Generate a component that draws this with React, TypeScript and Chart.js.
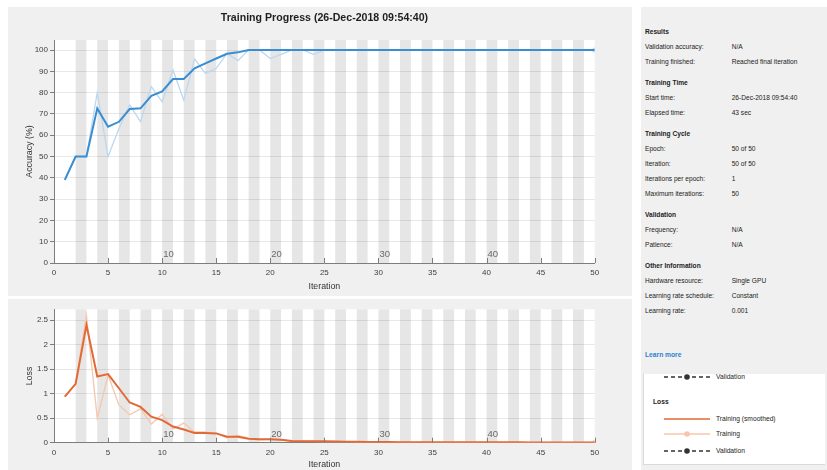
import { useEffect, useRef } from 'react';
import { Chart, registerables } from 'chart.js';

Chart.register(...registerables);

// ---- data -----------------------------------------------------------------
const ITERATION_MIN = 0;
const ITERATION_MAX = 50;
const EPOCH_COUNT = 50;
const EPOCH_MARKS = [10, 20, 30, 40];
const X_TICK_STEP = 5;

const ACC_SMOOTHED = [
  39, 50, 50, 72.6, 64, 66.3, 72.3, 72.6, 78.5, 80.6,
  86.4, 86.4, 91.4, 93.7, 96, 98.2, 98.9, 100, 100, 100,
  100, 100, 100, 100, 100, 100, 100, 100, 100, 100,
  100, 100, 100, 100, 100, 100, 100, 100, 100, 100,
  100, 100, 100, 100, 100, 100, 100, 100, 100, 100,
];
const ACC_RAW = [
  39, 50, 50, 80, 50, 63, 74.2, 66.3, 82.8, 75.7,
  90.6, 76.5, 95.8, 89, 91.4, 98.4, 95, 100, 100, 96,
  98, 100, 100, 98, 100, 100, 100, 100, 100, 100,
  100, 100, 100, 100, 100, 100, 100, 100, 100, 100,
  100, 100, 100, 100, 100, 100, 100, 100, 100, 100,
];
const LOSS_SMOOTHED = [
  0.94, 1.2, 2.4, 1.35, 1.4, 1.11, 0.82, 0.73, 0.53, 0.46,
  0.33, 0.27, 0.2, 0.2, 0.19, 0.12, 0.12, 0.08, 0.07, 0.07,
  0.06, 0.035, 0.03, 0.03, 0.03, 0.025, 0.02, 0.02, 0.015, 0.015,
  0.012, 0.011, 0.01, 0.01, 0.01, 0.009, 0.009, 0.008, 0.008, 0.008,
  0.007, 0.007, 0.007, 0.006, 0.006, 0.006, 0.006, 0.005, 0.005, 0.005,
];
const LOSS_RAW = [
  0.94, 1.2, 2.6, 0.5, 1.38, 0.77, 0.57, 0.69, 0.38, 0.58,
  0.28, 0.4, 0.22, 0.22, 0.19, 0.1, 0.15, 0.09, 0.06, 0.07,
  0.06, 0.03, 0.03, 0.03, 0.02, 0.03, 0.02, 0.015, 0.012, 0.012,
  0.01, 0.01, 0.009, 0.01, 0.008, 0.008, 0.007, 0.008, 0.007, 0.006,
  0.006, 0.006, 0.005, 0.006, 0.005, 0.005, 0.005, 0.004, 0.005, 0.004,
];

const ACC_MAX = 104.7;
const ACC_STEP = 10;
const LOSS_MAX = 2.72;
const LOSS_STEP = 0.5;

const TITLE = 'Training Progress (26-Dec-2018 09:54:40)';

const INFO_HEADINGS = ['Results', 'Training Time', 'Training Cycle', 'Validation', 'Other Information'];
const INFO_LABELS = [
  ['Validation accuracy:', 'Training finished:'],
  ['Start time:', 'Elapsed time:'],
  ['Epoch:', 'Iteration:', 'Iterations per epoch:', 'Maximum iterations:'],
  ['Frequency:', 'Patience:'],
  ['Hardware resource:', 'Learning rate schedule:', 'Learning rate:'],
];
const INFO_VALUES = [
  ['N/A', 'Reached final iteration'],
  ['26-Dec-2018 09:54:40', '43 sec'],
  ['50 of 50', '50 of 50', '1', '50'],
  ['N/A', 'N/A'],
  ['Single GPU', 'Constant', '0.001'],
];

// ---- styling ----------------------------------------------------------------
const FONT = '"Liberation Sans", Arial, sans-serif';
const PANEL_BG = '#f0f0f0';
const BAND = '#e6e6e6';
const GRID = 'rgba(0,0,0,0.09)';
const AXIS = '#7d7d7d';
const TICK_TEXT = '#404040';
const BLUE = '#3a8dd0';
const BLUE_LIGHT = '#bcd8ef';
const ORANGE = '#e26a36';
const ORANGE_LIGHT = '#f6c6ae';

Chart.defaults.font.family = FONT;

// plot background, alternating epoch bands, inward x ticks and epoch numbers
const progressDecor = {
  id: 'progressDecor',
  beforeDraw(chart: any) {
    const { ctx, chartArea: a, scales } = chart;
    const x = scales.x;
    ctx.save();
    ctx.fillStyle = '#ffffff';
    ctx.fillRect(a.left, a.top, a.right - a.left, a.bottom - a.top);
    ctx.fillStyle = BAND;
    for (let e = 2; e < EPOCH_COUNT; e += 2) {
      const x0 = x.getPixelForValue(e);
      const x1 = x.getPixelForValue(e + 1);
      ctx.fillRect(x0, a.top, x1 - x0, a.bottom - a.top);
    }
    ctx.restore();
  },
  afterDraw(chart: any) {
    const { ctx, chartArea: a, scales } = chart;
    const x = scales.x;
    ctx.save();
    ctx.strokeStyle = AXIS;
    ctx.lineWidth = 1;
    x.ticks.forEach((t: any) => {
      const px = Math.round(x.getPixelForValue(t.value)) + 0.5;
      ctx.beginPath();
      ctx.moveTo(px, a.bottom);
      ctx.lineTo(px, a.bottom - 5);
      ctx.stroke();
    });
    ctx.fillStyle = '#6a6a6a';
    ctx.font = `9.5px ${FONT}`;
    ctx.textBaseline = 'alphabetic';
    ctx.textAlign = 'left';
    EPOCH_MARKS.forEach((e) => {
      ctx.fillText(String(e), x.getPixelForValue(e) + 1, a.bottom - 6);
    });
    ctx.restore();
  },
};

type PanelSpec = {
  smoothed: number[];
  raw: number[];
  smoothColor: string;
  rawColor: string;
  yMax: number;
  yStep: number;
  yTitle: string;
  padTop: number;
  xAxisHeight: number;
  xTitlePad: number;
};

function buildChart(canvas: HTMLCanvasElement, p: PanelSpec) {
  const lastIndex = p.raw.length - 1;
  return new Chart(canvas, {
    type: 'line',
    data: {
      datasets: [
        {
          label: 'Training (smoothed)',
          data: p.smoothed.map((v, i) => ({ x: i + 1, y: v })),
          borderColor: p.smoothColor,
          borderWidth: 2,
          pointRadius: 0,
          tension: 0,
        },
        {
          label: 'Training',
          data: p.raw.map((v, i) => ({ x: i + 1, y: v })),
          borderColor: p.rawColor,
          backgroundColor: p.rawColor,
          borderWidth: 1.3,
          pointRadius: (c: any) => (c.dataIndex === lastIndex ? 2.6 : 0),
          pointBorderWidth: 0,
          tension: 0,
        },
      ],
    },
    options: {
      animation: false,
      responsive: false,
      events: [],
      layout: { padding: { left: 0, right: 37.3, top: p.padTop, bottom: 0 } },
      plugins: { legend: { display: false }, tooltip: { enabled: false }, title: { display: false } },
      scales: {
        x: {
          type: 'linear',
          min: ITERATION_MIN,
          max: ITERATION_MAX,
          ticks: { stepSize: X_TICK_STEP, color: TICK_TEXT, font: { size: 8 }, padding: 5, maxRotation: 0 },
          grid: { display: false, drawTicks: false },
          border: { display: true, color: AXIS, width: 1 },
          title: {
            display: true,
            text: 'Iteration',
            color: '#333333',
            font: { size: 8.8 },
            padding: { top: 0, bottom: p.xTitlePad },
          },
          afterFit: (s: any) => {
            s.height = p.xAxisHeight;
            s.paddingLeft = 0;
            s.paddingRight = 0;
          },
        },
        y: {
          min: 0,
          max: p.yMax,
          ticks: {
            stepSize: p.yStep,
            includeBounds: false,
            color: TICK_TEXT,
            font: { size: 8 },
            padding: 2,
            callback: (v: any) => String(Math.round(Number(v) * 10) / 10),
          },
          grid: { color: GRID, tickColor: AXIS, tickLength: 4, drawTicks: true },
          border: { display: true, color: AXIS, width: 1 },
          title: {
            display: true,
            text: p.yTitle,
            color: '#333333',
            font: { size: 8.8 },
            padding: { top: 16, bottom: 0 },
          },
          afterFit: (s: any) => {
            s.width = 46;
          },
        },
      },
    } as any,
    plugins: [progressDecor],
  });
}

function ChartCanvas({ spec, width, height }: { spec: PanelSpec; width: number; height: number }) {
  const ref = useRef<HTMLCanvasElement | null>(null);
  useEffect(() => {
    if (!ref.current) return;
    const chart = buildChart(ref.current, spec);
    return () => chart.destroy();
  }, [spec]);
  return <canvas ref={ref} width={width} height={height} style={{ width, height, display: 'block' }} />;
}

const ACC_SPEC: PanelSpec = {
  smoothed: ACC_SMOOTHED,
  raw: ACC_RAW,
  smoothColor: BLUE,
  rawColor: BLUE_LIGHT,
  yMax: ACC_MAX,
  yStep: ACC_STEP,
  yTitle: 'Accuracy (%)',
  padTop: 33,
  xAxisHeight: 33,
  xTitlePad: 4,
};

const LOSS_SPEC: PanelSpec = {
  smoothed: LOSS_SMOOTHED,
  raw: LOSS_RAW,
  smoothColor: ORANGE,
  rawColor: ORANGE_LIGHT,
  yMax: LOSS_MAX,
  yStep: LOSS_STEP,
  yTitle: 'Loss',
  padTop: 11.3,
  xAxisHeight: 27.3,
  xTitlePad: 0,
};

const textBase: any = {
  position: 'absolute',
  fontFamily: FONT,
  fontSize: 6.6,
  lineHeight: '8px',
  color: '#222222',
  whiteSpace: 'nowrap',
};

function InfoPanel() {
  const items: any[] = [];
  let y = 32.3;
  INFO_HEADINGS.forEach((h, si) => {
    items.push(
      <div key={`h${si}`} style={{ ...textBase, left: 4, top: y - 4 - 7, fontWeight: 'bold' }}>
        {h}
      </div>
    );
    y += 14.8;
    INFO_LABELS[si].forEach((lab, ri) => {
      items.push(
        <div key={`l${si}-${ri}`} style={{ ...textBase, left: 4, top: y - 4 - 7 }}>
          {lab}
        </div>
      );
      items.push(
        <div key={`v${si}-${ri}`} style={{ ...textBase, left: 90.7, top: y - 4 - 7 }}>
          {INFO_VALUES[si][ri]}
        </div>
      );
      y += 15;
    });
    y += 6.2;
  });
  return <>{items}</>;
}

function LegendRow({ top, color, dashed, marker, label }: any) {
  return (
    <>
      <svg style={{ position: 'absolute', left: 19, top: top - 4 }} width={50} height={8}>
        <line
          x1={1}
          y1={4}
          x2={47}
          y2={4}
          stroke={color}
          strokeWidth={1.5}
          strokeDasharray={dashed ? '4 3' : undefined}
        />
        {marker ? <circle cx={24} cy={4} r={2.8} fill={color} /> : null}
      </svg>
      <div style={{ ...textBase, fontSize: 6.7, left: 72, top: top - 4 }}>{label}</div>
    </>
  );
}

export default function App() {
  return (
    <div
      style={{
        position: 'fixed',
        left: 0,
        top: 0,
        width: 827,
        height: 470,
        overflow: 'hidden',
        background: '#ffffff',
      }}
    >
      {/* plot panels */}
      <div style={{ position: 'absolute', left: 8, top: 7, width: 624, height: 289, background: PANEL_BG }} />
      <div style={{ position: 'absolute', left: 8, top: 299, width: 624, height: 171, background: PANEL_BG }} />
      <div style={{ position: 'absolute', left: 8, top: 7 }}>
        <ChartCanvas spec={ACC_SPEC} width={624} height={289} />
      </div>
      <div style={{ position: 'absolute', left: 8, top: 298 }}>
        <ChartCanvas spec={LOSS_SPEC} width={624} height={172} />
      </div>
      <div
        style={{
          position: 'absolute',
          left: 54,
          width: 541,
          top: 10,
          textAlign: 'center',
          fontFamily: FONT,
          fontWeight: 'bold',
          fontSize: 10.6,
          lineHeight: '14px',
          color: '#1e1e1e',
          whiteSpace: 'nowrap',
        }}
      >
        {TITLE}
      </div>

      {/* information side panel */}
      <div style={{ position: 'absolute', left: 641, top: 7, width: 186, height: 463, background: PANEL_BG }}>
        <InfoPanel />
        <div
          style={{ ...textBase, left: 4, top: 355.3 - 4 - 7, color: '#2f7fd0', fontWeight: 'bold', fontSize: 6.7 }}
        >
          Learn more
        </div>
      </div>
      <div
        style={{
          position: 'absolute',
          left: 643,
          top: 374,
          width: 182,
          height: 91,
          background: '#ffffff',
          boxSizing: 'border-box',
          borderLeft: '1px solid #dadada',
          borderBottom: '1px solid #dadada',
          overflow: 'hidden',
        }}
      >
        <LegendRow top={2.7} color="#333333" dashed marker label="Validation" />
        <div style={{ ...textBase, fontSize: 6.7, left: 9, top: 27.7 - 4, fontWeight: 'bold' }}>Loss</div>
        <LegendRow top={44.7} color={ORANGE} label="Training (smoothed)" />
        <LegendRow top={59.7} color={ORANGE_LIGHT} marker label="Training" />
        <LegendRow top={76.7} color="#333333" dashed marker label="Validation" />
      </div>
    </div>
  );
}
